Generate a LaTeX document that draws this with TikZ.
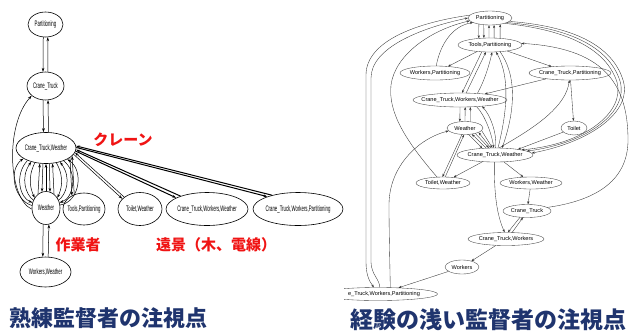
\documentclass[tikz,border=0pt]{standalone}
\usepackage{fontspec}
\usepackage{graphicx}
\usetikzlibrary{shapes.geometric,arrows.meta}
\newfontfamily\gfont{Liberation Sans}
\newfontfamily\jp{Noto Sans CJK JP}
\definecolor{labred}{RGB}{240,20,20}
\definecolor{navy}{RGB}{31,52,110}
\newcommand\lt[1]{\makebox[0pt]{\scalebox{0.54}[1]{#1}}}
\newcommand\rt[1]{\makebox[0pt]{#1}}
\begin{document}
\begin{tikzpicture}[x=1pt,y=-1pt,
  sz/.style 2 args={minimum width=#1pt,minimum height=#2pt},
  lell/.style={ellipse,draw=black,line width=0.6pt,inner sep=0pt,font=\gfont\fontsize{8}{8}\selectfont},
  rell/.style={ellipse,draw=black!75,line width=0.35pt,inner sep=0pt,font=\gfont\fontsize{5.6}{5.6}\selectfont},
  la/.style={draw=black,line width=0.5pt,-{Stealth[length=4pt,width=2.6pt]}},
  lth/.style={la,line width=1pt},
  ra/.style={draw=black!80,line width=0.35pt,-{Stealth[length=3pt,width=2.2pt]}},
  redlab/.style={text=labred,font=\jp\bfseries\fontsize{15}{15}\selectfont,inner sep=0pt},
  title/.style={text=navy,font=\jp\bfseries\fontsize{22}{22}\selectfont,inner sep=0pt}]
\useasboundingbox (0,0) rectangle (629,333);
\fill[white] (0,0) rectangle (629,333);

% ---------- left graph ----------
\node[lell,sz={35}{25}] (LP) at (45.5,24.5) {\lt{Partitioning}};
\node[lell,sz={37}{28}] (LCT) at (45.5,86) {\lt{Crane\_Truck}};
\node[lell,sz={60}{31}] (LCTW) at (46,148) {\lt{Crane\_Truck,Weather}};
\node[lell,sz={28}{33}] (LW) at (46,208) {\lt{Weather}};
\node[lell,sz={42}{32}] (LTP) at (84,209) {\lt{Tools,Partitioning}};
\node[lell,sz={44}{33}] (LTW) at (140,209) {\lt{Toilet,Weather}};
\node[lell,sz={82}{33}] (LCTWW) at (207,209) {\lt{Crane\_Truck,Workers,Weather}};
\node[lell,sz={90}{33}] (LCTWP) at (298,209) {\lt{Crane\_Truck,Workers,Partitioning}};
\node[lell,sz={51}{30}] (LWW) at (45.5,272) {\lt{Workers,Weather}};

\draw[la] (LP.260) -- (LCT.100);
\draw[la] (LCT.80) -- (LP.280);
\draw[la] (LCT.260) -- (LCTW.99);
\draw[la] (LCTW.81) -- (LCT.280);
\draw[la] (LW.185) .. controls (8,198) and (5,125) .. (LCT.215);

\draw[la] (LW.170) .. controls (14,200) and (8,170) .. (LCTW.205);
\draw[la] (LCTW.214) .. controls (14,175) and (20,198) .. (LW.158);
\draw[la] (LW.148) .. controls (26,195) and (20,178) .. (LCTW.223);
\draw[la] (LCTW.233) .. controls (27,178) and (31,190) .. (LW.138);
\draw[la] (LW.120) -- (LCTW.248);
\draw[la] (LCTW.259) -- (LW.104);
\draw[la] (LW.90) -- (LCTW.270);
\draw[la] (LCTW.282) -- (LW.76);
\draw[la] (LW.60) -- (LCTW.293);
\draw[la] (LCTW.305) .. controls (65,178) and (61,190) .. (LW.42);
\draw[la] (LW.32) .. controls (66,195) and (72,178) .. (LCTW.315);
\draw[la] (LCTW.324) .. controls (78,172) and (74,198) .. (LW.22);
\draw[la] (LW.12) .. controls (80,202) and (84,170) .. (LCTW.332);

\draw[la] (LCTW.338) -- (LTP.132);
\draw[la] (LTP.124) -- (LCTW.343);
\draw[la] (LCTW.347) -- (LTW.150);
\draw[la] (LTW.143) -- (LCTW.351);
\draw[lth] (LCTW.354) -- (LCTWW.160);
\draw[lth] (LCTWW.154) -- (LCTW.357);
\draw[lth] (LCTW.1) -- (LCTWP.158);
\draw[lth] (LCTWP.152) -- (LCTW.4);
\draw[la] (LW.260) -- (LWW.100);
\draw[la] (LWW.80) -- (LW.280);

\node[redlab] (lk) at (123,140) {クレーン};
\node[redlab] (lsa) at (78,245) {作業者};
\node[redlab] (lbg) at (216,245) {遠景（木、電線）};

% ---------- right graph ----------
\node[rell,sz={44}{14}] (RP) at (490,18) {\rt{Partitioning}};
\node[rell,sz={64}{14}] (RTP) at (490,45) {\rt{Tools,Partitioning}};
\node[rell,sz={70}{14}] (RWP) at (435,73) {\rt{Workers,Partitioning}};
\node[rell,sz={82}{14}] (RCTP) at (570,73) {\rt{Crane\_Truck,Partitioning}};
\node[rell,sz={94}{14}] (RCTWW) at (460,100) {\rt{Crane\_Truck,Workers,Weather}};
\node[rell,sz={36}{13}] (RW) at (465,128) {\rt{Weather}};
\node[rell,sz={26}{14}] (RT) at (574,128) {\rt{Toilet}};
\node[rell,sz={76}{14}] (RCTW) at (495,155) {\rt{Crane\_Truck,Weather}};
\node[rell,sz={54}{12}] (RTW) at (443,183) {\rt{Toilet,Weather}};
\node[rell,sz={62}{12}] (RWW) at (531,183) {\rt{Workers,Weather}};
\node[rell,sz={48}{13}] (RCT) at (527,211) {\rt{Crane\_Truck}};
\node[rell,sz={76}{13}] (RCTWk) at (506,239) {\rt{Crane\_Truck,Workers}};
\node[rell,sz={34}{14}] (RWk) at (462,267) {\rt{Workers}};
\begin{scope}
\clip (344,280) rectangle (450,310);
\node[rell,sz={119}{13}] (RCTWP) at (378,294) {\makebox[0pt]{\hspace*{12pt}e\_Truck,Workers,Partitioning}};
\end{scope}

\draw[ra] (RP.209) -- (RTP.149);
\draw[ra] (RP.228) -- (RTP.131);
\draw[ra] (RTP.98) -- (RP.262);
\draw[ra] (RTP.60) -- (RP.300);
\draw[ra] (RTP.34) -- (RP.328);

\draw[ra] (RTP) -- (RWP);
\draw[ra] (RWP.80) .. controls (440,45) and (452,26) .. (RP.195);
\draw[ra] (RTP) -- (RCTP);
\draw[ra] (RCTP) -- (RCTWW);
\draw[ra] (RCTP) -- (RT);
\draw[ra] (RT) -- (RCTW.14);
\draw[ra] (RCTW.60) .. controls (540,125) and (566,105) .. (RCTP.265);

\draw[ra] (RCTWW.270) -- (RW.129);
\draw[ra] (RW.90) -- (RCTWW.306);
\draw[ra] (RW.51) -- (RCTWW.326);

\draw[ra] (RTP.220) -- (RCTWW.74);
\draw[ra] (RCTWW.49) -- (RTP.240);
\draw[ra] (RCTWW.21) .. controls (485,80) and (490,62) .. (RTP.286);

\draw[ra] (RCTW.67) .. controls (505,120) and (512,80) .. (RTP.311);
\draw[ra] (RTP.326) .. controls (520,80) and (512,120) .. (RCTW.45);

\draw[ra] (RCTWW.338) .. controls (485,115) and (492,135) .. (RCTW.100);
\draw[ra] (RCTW.85) .. controls (497,132) and (490,115) .. (RCTWW.344);

\draw[ra] (RW.300) -- (RCTW.152);
\draw[ra] (RCTW.142) -- (RW.318);
\draw[ra] (RW.332) -- (RCTW.131);
\draw[ra] (RCTW.121) -- (RW.342);
\draw[ra] (RW.351) -- (RCTW.110);

\draw[ra] (RW.245) -- (RTW.95);
\draw[ra] (RTW.70) -- (RW.262);
\draw[ra] (RCTW) -- (RTW);
\draw[ra] (RCTW) -- (RWW);
\draw[ra] (RWW) -- (RCT);
\draw[ra] (RCTW.265) .. controls (494,195) and (497,215) .. (RCTWk.102);
\draw[ra] (RCT.222) -- (RCTWk.74);
\draw[ra] (RCTWk.47) -- (RCT.238);
\draw[ra] (RCTWk) -- (RWk);
\draw[ra] (RWk) -- (RCTWP.17);

\draw[ra] (RP.172) .. controls (420,22) and (366,40) .. (366,75) -- (366,262) .. controls (366,276) and (370,282) .. (RCTWP.122);
\draw[ra] (RCTWP.75) .. controls (380,280) and (371,274) .. (371,262) -- (371,78) .. controls (371,48) and (420,28) .. (RP.180);
\draw[ra] (RTW.135) .. controls (405,140) and (388,112) .. (391,85) .. controls (395,55) and (430,30) .. (RP.188);
\draw[ra] (RCTWP.28) .. controls (390,270) and (389,232) .. (389,205) .. controls (389,165) and (420,138) .. (RW.190);

\draw[ra] (RP.350) .. controls (572,26) and (612,45) .. (623,80) .. controls (633,112) and (590,142) .. (RCTW.3);
\draw[ra] (RP.345) .. controls (570,28) and (609,47) .. (620,81) .. controls (629,112) and (588,143) .. (RCTW.7);
\draw[ra] (RP.340) .. controls (568,30) and (606,49) .. (617,82) .. controls (625,112) and (586,144) .. (RCTW.11);
\draw[ra] (RCT.10) .. controls (600,200) and (628,178) .. (628,140) .. controls (628,80) and (600,48) .. (RTP.3);

% ---------- titles ----------
\node[title] (t1) at (108.5,318.5) {熟練監督者の注視点};
\node[title,font=\jp\bfseries\fontsize{23}{23}\selectfont] (t2) at (488,320) {経験の浅い監督者の注視点};
\end{tikzpicture}
\end{document}
